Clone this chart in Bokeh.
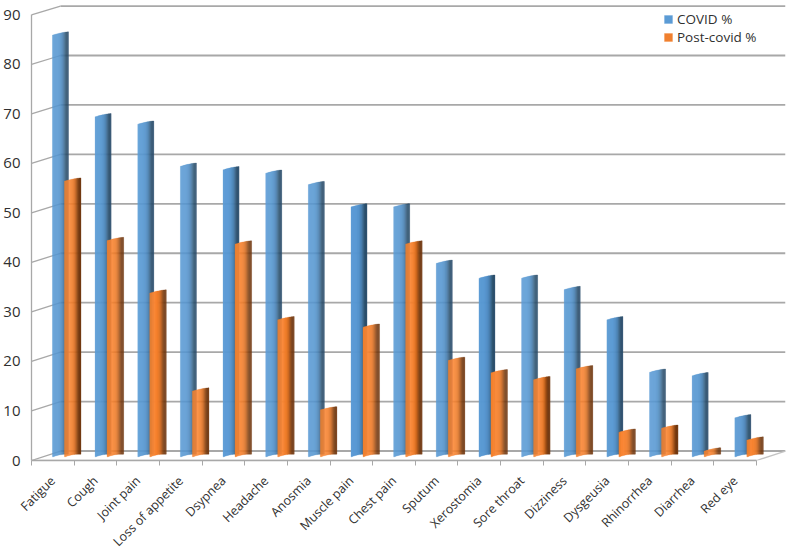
from bokeh.embed import file_html
from bokeh.resources import INLINE
from bokeh.plotting import figure
from bokeh.models import Range1d, FixedTicker, Legend, LegendItem, ColumnDataSource

categories = ["Fatigue", "Cough", "Joint pain", "Loss of appetite", "Dsypnea", "Headache", "Anosmia",
              "Muscle pain", "Chest pain", "Sputum", "Xerostomia", "Sore throat", "Dizziness",
              "Dysgeusia", "Rhinorrhea", "Diarrhea", "Red eye"]
covid = [85.5, 69.0, 67.5, 59.0, 58.3, 57.6, 55.3, 50.8, 50.8, 39.4, 36.4, 36.4, 34.1, 28.0, 17.4, 16.7, 8.2]
post_covid = [56.0, 44.0, 33.4, 13.6, 43.3, 28.0, 9.8, 26.5, 43.3, 19.8, 17.3, 15.9, 18.1, 5.3, 6.1, 1.5, 3.7]
y_ticks = [0, 10, 20, 30, 40, 50, 60, 70, 80, 90]

BLUES = ["#5b9bd5", "#5b9bd5", "#5a9ad4", "#5a9ad4", "#5999d3", "#5898d2", "#5696d0", "#5493cc", "#508ec6",
         "#4b87bc", "#477fb1", "#42729e", "#3a6689", "#2f5675", "#2a4d6a", "#2c4f6d"]
ORANGES = ["#f0802f", "#f5832f", "#f98533", "#fb8735", "#fb8735", "#f98431", "#f6822e", "#f27f2b", "#eb7a28",
           "#df7324", "#cd681f", "#b35a1a", "#974c16", "#7f3f12", "#703811", "#733a12"]

CAT_PX = 42.65
SCALE = 4.956
p = figure(frame_width=754, frame_height=457, output_backend="svg", toolbar_location=None,
           x_range=Range1d(0, 17.68), y_range=Range1d(0, 92.3),
           min_border_left=23, min_border_right=5, min_border_top=3, min_border_bottom=0,
           outline_line_color=None, background_fill_color="white", border_fill_color="white")
p.grid.visible = False

DEPTH_X = 29 / CAT_PX
DEPTH_Y = 9.5 / SCALE
GRID = "#a8a8a8"
BACK_STEP = 0.9985

back_y = [DEPTH_Y + t * BACK_STEP for t in y_ticks]
p.segment(x0=[DEPTH_X] * 10, x1=[17 + DEPTH_X] * 10, y0=back_y, y1=back_y, line_color=GRID, line_width=1.8)
p.segment(x0=[0] * 10, x1=[DEPTH_X] * 10, y0=y_ticks, y1=back_y, line_color=GRID, line_width=1.3)
p.segment(x0=[0, 17], x1=[17, 17 + DEPTH_X], y0=[0, 0], y1=[0, DEPTH_Y], line_color="#c4c4c4", line_width=1.3)


def bar_source(values, colors, first_px, last_px):
    d = dict(left=[], right=[], top=[], bottom=[], fill_color=[])
    n = len(colors)
    step = (last_px - first_px) / n
    for i, v in enumerate(values):
        for k, c in enumerate(colors):
            f = k / (n - 1)
            x0 = (i * CAT_PX + first_px + k * step) / CAT_PX
            x1 = (i * CAT_PX + first_px + (k + 1) * step) / CAT_PX
            curve = (1.0 - (2 * f - 1) ** 2) * 0.8
            dy = (f * 3.2 - 1.6 + curve * 0.5) / SCALE
            base = 0.75 + (f * 2.6 + curve) / SCALE
            d["left"].append(x0)
            d["right"].append(x1)
            d["top"].append(v + 0.75 + dy)
            d["bottom"].append(base)
            d["fill_color"].append(c)
    return ColumnDataSource(d)


r_blue = p.quad(left="left", right="right", top="top", bottom="bottom", fill_color="fill_color",
                line_color="fill_color", line_width=0.3, source=bar_source(covid, BLUES, 21.0, 37.0))
r_orange = p.quad(left="left", right="right", top="top", bottom="bottom", fill_color="fill_color",
                  line_color="fill_color", line_width=0.3, source=bar_source(post_covid, ORANGES, 33.0, 49.5))

TEXT = "#303030"
ya = p.yaxis[0]
ya.ticker = FixedTicker(ticks=y_ticks)
ya.bounds = (0, 90)
ya.axis_line_color = GRID
ya.axis_line_width = 1.3
ya.major_tick_line_color = None
ya.minor_tick_line_color = None
ya.major_label_text_font = "Open Sans"
ya.major_label_text_font_size = "15px"
ya.major_label_text_color = TEXT
ya.major_label_standoff = 5

xa = p.xaxis[0]
xa.ticker = FixedTicker(ticks=[i + 0.5 for i in range(17)], minor_ticks=list(range(18)))
xa.major_label_overrides = {i + 0.5: c for i, c in enumerate(categories)}
xa.bounds = (0, 17)
xa.axis_line_color = GRID
xa.axis_line_width = 1.3
xa.major_tick_line_color = None
xa.minor_tick_line_color = GRID
xa.minor_tick_out = 5
xa.minor_tick_in = 0
xa.major_label_orientation = 0.785
xa.major_label_text_font = "Open Sans"
xa.major_label_text_font_size = "12.5px"
xa.major_label_text_color = TEXT
xa.major_label_standoff = 12

legend = Legend(items=[LegendItem(label="COVID %", renderers=[r_blue], index=0),
                       LegendItem(label="Post-covid %", renderers=[r_orange], index=0)],
                location=(632, 414), orientation="vertical", glyph_width=10, glyph_height=10,
                spacing=0, padding=4, margin=0, label_standoff=4,
                background_fill_alpha=0, border_line_color=None,
                label_text_font="Open Sans", label_text_font_size="13.5px", label_text_color=TEXT)
p.add_layout(legend, "center")

open("out.html", "w").write(file_html(p, INLINE))
